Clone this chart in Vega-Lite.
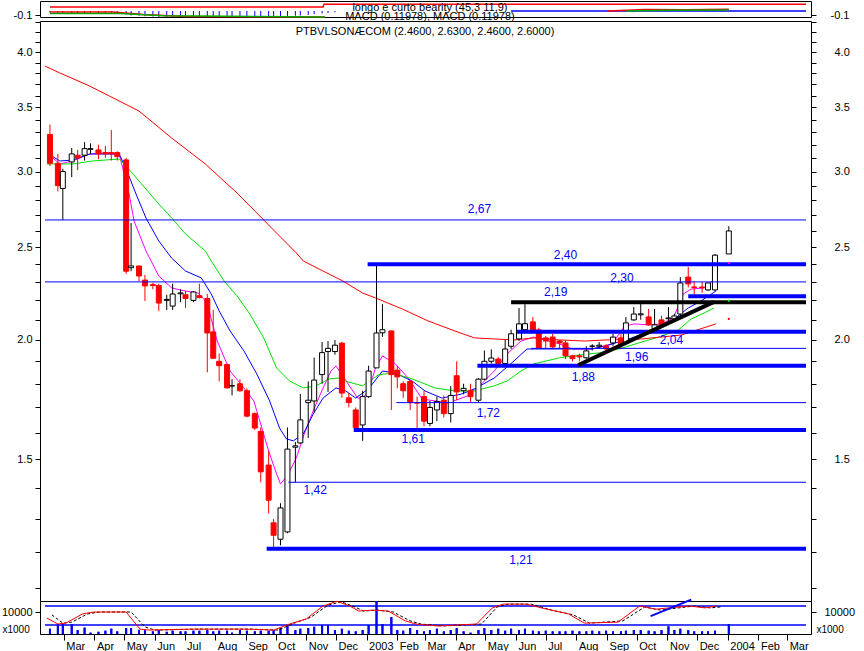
{
  "$schema": "https://vega.github.io/schema/vega-lite/v6.json",
  "background": "white",
  "padding": {"left": 0, "right": 2, "top": 0, "bottom": 0},
  "autosize": {"type": "pad"},
  "config": {
    "view": {"stroke": "#000000", "strokeWidth": 1},
    "font": "Liberation Sans",
    "axis": {"labelFont": "Liberation Sans", "labelFontSize": 11, "labelColor": "#000000", "tickColor": "#000000", "domainColor": "#000000", "grid": false, "titleFont": "Liberation Sans", "titleFontWeight": "normal", "titleColor": "#000000"},
    "text": {"font": "Liberation Sans"}
  },
  "datasets": {
    "candles": [
      {"d":"2002-02-15","o":3.28,"h":3.36,"l":3.04,"c":3.06,"v":2400},
      {"d":"2002-02-23","o":3.06,"h":3.13,"l":2.86,"c":2.90,"v":4500},
      {"d":"2002-02-28","o":2.88,"h":3.02,"l":2.67,"c":3.00,"v":4500},
      {"d":"2002-03-09","o":3.07,"h":3.175,"l":2.96,"c":3.13,"v":4500},
      {"d":"2002-03-15","o":3.12,"h":3.16,"l":3.01,"c":3.10,"v":1800},
      {"d":"2002-03-22","o":3.12,"h":3.22,"l":3.08,"c":3.17,"v":2900},
      {"d":"2002-03-28","o":3.165,"h":3.21,"l":3.13,"c":3.17,"v":600},
      {"d":"2002-04-05","o":3.16,"h":3.20,"l":3.09,"c":3.13,"v":1000},
      {"d":"2002-04-12","o":3.14,"h":3.19,"l":3.10,"c":3.13,"v":1500},
      {"d":"2002-04-18","o":3.14,"h":3.315,"l":3.08,"c":3.13,"v":2400},
      {"d":"2002-04-24","o":3.14,"h":3.15,"l":3.08,"c":3.11,"v":1200},
      {"d":"2002-05-03","o":3.085,"h":3.10,"l":2.345,"c":2.36,"v":2700},
      {"d":"2002-05-08","o":2.38,"h":2.65,"l":2.36,"c":2.39,"v":2700},
      {"d":"2002-05-16","o":2.39,"h":2.39,"l":2.305,"c":2.333,"v":1900},
      {"d":"2002-05-22","o":2.31,"h":2.34,"l":2.197,"c":2.278,"v":1800},
      {"d":"2002-05-30","o":2.285,"h":2.295,"l":2.26,"c":2.28,"v":1200},
      {"d":"2002-06-05","o":2.28,"h":2.29,"l":2.145,"c":2.186,"v":1800},
      {"d":"2002-06-13","o":2.20,"h":2.23,"l":2.15,"c":2.205,"v":1000},
      {"d":"2002-06-19","o":2.17,"h":2.29,"l":2.15,"c":2.234,"v":1500},
      {"d":"2002-06-27","o":2.235,"h":2.26,"l":2.19,"c":2.24,"v":1200},
      {"d":"2002-07-02","o":2.23,"h":2.25,"l":2.16,"c":2.21,"v":1200},
      {"d":"2002-07-10","o":2.20,"h":2.25,"l":2.19,"c":2.245,"v":1500},
      {"d":"2002-07-16","o":2.225,"h":2.29,"l":2.21,"c":2.215,"v":1500},
      {"d":"2002-07-24","o":2.21,"h":2.235,"l":1.85,"c":2.034,"v":1800},
      {"d":"2002-07-30","o":2.039,"h":2.15,"l":1.91,"c":1.914,"v":1200},
      {"d":"2002-08-05","o":1.90,"h":1.935,"l":1.81,"c":1.88,"v":1500},
      {"d":"2002-08-13","o":1.885,"h":1.89,"l":1.78,"c":1.782,"v":1500},
      {"d":"2002-08-18","o":1.79,"h":1.82,"l":1.75,"c":1.792,"v":600},
      {"d":"2002-08-26","o":1.80,"h":1.82,"l":1.765,"c":1.77,"v":1800},
      {"d":"2002-09-02","o":1.77,"h":1.78,"l":1.66,"c":1.665,"v":1500},
      {"d":"2002-09-10","o":1.675,"h":1.68,"l":1.61,"c":1.618,"v":1200},
      {"d":"2002-09-16","o":1.605,"h":1.62,"l":1.42,"c":1.456,"v":1500},
      {"d":"2002-09-24","o":1.48,"h":1.53,"l":1.317,"c":1.36,"v":1500},
      {"d":"2002-09-29","o":1.288,"h":1.30,"l":1.211,"c":1.25,"v":1800},
      {"d":"2002-10-06","o":1.238,"h":1.35,"l":1.22,"c":1.335,"v":2700},
      {"d":"2002-10-13","o":1.26,"h":1.62,"l":1.256,"c":1.538,"v":3900},
      {"d":"2002-10-21","o":1.545,"h":1.565,"l":1.42,"c":1.55,"v":1800},
      {"d":"2002-10-26","o":1.561,"h":1.756,"l":1.557,"c":1.65,"v":2400},
      {"d":"2002-11-03","o":1.72,"h":1.81,"l":1.58,"c":1.73,"v":2700},
      {"d":"2002-11-09","o":1.727,"h":1.917,"l":1.68,"c":1.816,"v":3300},
      {"d":"2002-11-17","o":1.84,"h":1.99,"l":1.80,"c":1.94,"v":4100},
      {"d":"2002-11-23","o":1.945,"h":1.995,"l":1.765,"c":1.96,"v":4100},
      {"d":"2002-11-30","o":1.945,"h":2.0,"l":1.93,"c":1.975,"v":1800},
      {"d":"2002-12-07","o":1.985,"h":1.99,"l":1.74,"c":1.76,"v":2400},
      {"d":"2002-12-14","o":1.74,"h":1.76,"l":1.70,"c":1.72,"v":1500},
      {"d":"2002-12-21","o":1.69,"h":1.70,"l":1.61,"c":1.62,"v":1200},
      {"d":"2002-12-28","o":1.63,"h":1.77,"l":1.569,"c":1.745,"v":1800},
      {"d":"2003-01-03","o":1.745,"h":1.88,"l":1.74,"c":1.856,"v":4100},
      {"d":"2003-01-11","o":1.87,"h":2.40,"l":1.87,"c":2.034,"v":15000},
      {"d":"2003-01-17","o":2.035,"h":2.18,"l":2.015,"c":2.05,"v":4500},
      {"d":"2003-01-26","o":2.044,"h":2.045,"l":1.69,"c":1.84,"v":7700},
      {"d":"2003-02-01","o":1.86,"h":1.88,"l":1.78,"c":1.83,"v":1800},
      {"d":"2003-02-07","o":1.80,"h":1.81,"l":1.74,"c":1.77,"v":1500},
      {"d":"2003-02-14","o":1.81,"h":1.815,"l":1.69,"c":1.72,"v":2700},
      {"d":"2003-02-21","o":1.72,"h":1.745,"l":1.607,"c":1.718,"v":1800},
      {"d":"2003-02-28","o":1.745,"h":1.77,"l":1.625,"c":1.645,"v":1200},
      {"d":"2003-03-06","o":1.636,"h":1.727,"l":1.625,"c":1.70,"v":1800},
      {"d":"2003-03-13","o":1.69,"h":1.745,"l":1.645,"c":1.725,"v":2400},
      {"d":"2003-03-20","o":1.73,"h":1.75,"l":1.66,"c":1.675,"v":1200},
      {"d":"2003-03-27","o":1.675,"h":1.79,"l":1.64,"c":1.75,"v":1800},
      {"d":"2003-04-02","o":1.835,"h":1.90,"l":1.73,"c":1.765,"v":2700},
      {"d":"2003-04-09","o":1.77,"h":1.80,"l":1.755,"c":1.78,"v":1200},
      {"d":"2003-04-16","o":1.77,"h":1.80,"l":1.72,"c":1.745,"v":600},
      {"d":"2003-04-24","o":1.73,"h":1.825,"l":1.72,"c":1.82,"v":1800},
      {"d":"2003-04-30","o":1.82,"h":1.95,"l":1.815,"c":1.90,"v":2700},
      {"d":"2003-05-07","o":1.90,"h":1.955,"l":1.89,"c":1.915,"v":1800},
      {"d":"2003-05-14","o":1.91,"h":1.92,"l":1.88,"c":1.89,"v":2400},
      {"d":"2003-05-21","o":1.89,"h":2.0,"l":1.88,"c":1.957,"v":1500},
      {"d":"2003-05-27","o":1.97,"h":2.05,"l":1.957,"c":2.03,"v":2400},
      {"d":"2003-06-04","o":2.005,"h":2.16,"l":1.995,"c":2.079,"v":1800},
      {"d":"2003-06-10","o":2.05,"h":2.18,"l":2.04,"c":2.08,"v":2400},
      {"d":"2003-06-18","o":2.089,"h":2.114,"l":2.04,"c":2.049,"v":1500},
      {"d":"2003-06-24","o":2.049,"h":2.06,"l":1.957,"c":1.962,"v":1200},
      {"d":"2003-07-01","o":2.01,"h":2.02,"l":1.96,"c":1.995,"v":1500},
      {"d":"2003-07-08","o":2.014,"h":2.03,"l":1.96,"c":1.967,"v":1200},
      {"d":"2003-07-15","o":1.995,"h":2.0,"l":1.96,"c":1.986,"v":1200},
      {"d":"2003-07-21","o":1.986,"h":2.0,"l":1.91,"c":1.925,"v":1200},
      {"d":"2003-07-28","o":1.925,"h":1.93,"l":1.90,"c":1.912,"v":1500},
      {"d":"2003-08-04","o":1.925,"h":1.935,"l":1.90,"c":1.92,"v":1200},
      {"d":"2003-08-11","o":1.916,"h":1.97,"l":1.912,"c":1.948,"v":1200},
      {"d":"2003-08-17","o":1.97,"h":1.98,"l":1.95,"c":1.971,"v":1500},
      {"d":"2003-08-24","o":1.97,"h":1.99,"l":1.96,"c":1.975,"v":1200},
      {"d":"2003-08-31","o":1.971,"h":1.98,"l":1.95,"c":1.957,"v":1500},
      {"d":"2003-09-07","o":1.986,"h":2.03,"l":1.97,"c":2.014,"v":1200},
      {"d":"2003-09-15","o":2.01,"h":2.03,"l":1.962,"c":1.976,"v":1200},
      {"d":"2003-09-20","o":1.986,"h":2.114,"l":1.98,"c":2.084,"v":1500},
      {"d":"2003-09-28","o":2.099,"h":2.165,"l":2.094,"c":2.129,"v":1800},
      {"d":"2003-10-05","o":2.125,"h":2.186,"l":2.10,"c":2.13,"v":1800},
      {"d":"2003-10-13","o":2.114,"h":2.155,"l":2.07,"c":2.074,"v":1500},
      {"d":"2003-10-19","o":2.054,"h":2.155,"l":2.05,"c":2.074,"v":1200},
      {"d":"2003-10-26","o":2.099,"h":2.12,"l":2.06,"c":2.069,"v":1800},
      {"d":"2003-11-02","o":2.105,"h":2.165,"l":2.09,"c":2.109,"v":3500},
      {"d":"2003-11-08","o":2.104,"h":2.13,"l":2.09,"c":2.119,"v":1800},
      {"d":"2003-11-14","o":2.129,"h":2.327,"l":2.114,"c":2.294,"v":2400},
      {"d":"2003-11-22","o":2.327,"h":2.384,"l":2.27,"c":2.289,"v":1800},
      {"d":"2003-11-28","o":2.272,"h":2.305,"l":2.234,"c":2.27,"v":1200},
      {"d":"2003-12-06","o":2.272,"h":2.30,"l":2.24,"c":2.268,"v":1200},
      {"d":"2003-12-12","o":2.256,"h":2.294,"l":2.25,"c":2.294,"v":1200},
      {"d":"2003-12-19","o":2.256,"h":2.46,"l":2.25,"c":2.453,"v":1500},
      {"d":"2004-01-02","o":2.46,"h":2.63,"l":2.46,"c":2.60,"v":4500}
    ],
    "ma": [
      {"d":"2002-02-12","s":"fast","p":3.137},{"d":"2002-02-25","s":"fast","p":3.055},{"d":"2002-03-10","s":"fast","p":3.077},{"d":"2002-03-27","s":"fast","p":3.129},{"d":"2002-04-13","s":"fast","p":3.137},{"d":"2002-04-26","s":"fast","p":3.129},{"d":"2002-04-29","s":"fast","p":3.04},{"d":"2002-05-06","s":"fast","p":2.842},{"d":"2002-05-11","s":"fast","p":2.663},{"d":"2002-05-23","s":"fast","p":2.478},{"d":"2002-06-05","s":"fast","p":2.333},{"d":"2002-06-18","s":"fast","p":2.267},{"d":"2002-07-02","s":"fast","p":2.25},{"d":"2002-07-15","s":"fast","p":2.239},{"d":"2002-07-22","s":"fast","p":2.197},{"d":"2002-07-25","s":"fast","p":2.16},{"d":"2002-08-03","s":"fast","p":1.995},{"d":"2002-08-16","s":"fast","p":1.856},{"d":"2002-08-30","s":"fast","p":1.782},{"d":"2002-09-09","s":"fast","p":1.727},{"d":"2002-09-15","s":"fast","p":1.646},{"d":"2002-09-24","s":"fast","p":1.531},{"d":"2002-10-02","s":"fast","p":1.449},{"d":"2002-10-06","s":"fast","p":1.414},{"d":"2002-10-14","s":"fast","p":1.449},{"d":"2002-10-22","s":"fast","p":1.506},{"d":"2002-10-30","s":"fast","p":1.595},{"d":"2002-11-08","s":"fast","p":1.686},{"d":"2002-11-18","s":"fast","p":1.782},{"d":"2002-11-26","s":"fast","p":1.856},{"d":"2002-12-01","s":"fast","p":1.879},{"d":"2002-12-08","s":"fast","p":1.834},{"d":"2002-12-16","s":"fast","p":1.782},{"d":"2002-12-23","s":"fast","p":1.739},{"d":"2002-12-28","s":"fast","p":1.739},{"d":"2003-01-03","s":"fast","p":1.769},{"d":"2003-01-10","s":"fast","p":1.87},{"d":"2003-01-17","s":"fast","p":1.925},{"d":"2003-01-30","s":"fast","p":1.888},{"d":"2003-02-12","s":"fast","p":1.825},{"d":"2003-02-26","s":"fast","p":1.735},{"d":"2003-03-11","s":"fast","p":1.727},{"d":"2003-03-24","s":"fast","p":1.718},{"d":"2003-04-13","s":"fast","p":1.748},{"d":"2003-04-27","s":"fast","p":1.799},{"d":"2003-05-10","s":"fast","p":1.856},{"d":"2003-05-23","s":"fast","p":1.934},{"d":"2003-06-06","s":"fast","p":1.995},{"d":"2003-06-19","s":"fast","p":2.014},{"d":"2003-07-15","s":"fast","p":1.981},{"d":"2003-07-28","s":"fast","p":1.957},{"d":"2003-08-17","s":"fast","p":1.957},{"d":"2003-09-06","s":"fast","p":1.981},{"d":"2003-09-19","s":"fast","p":2.069},{"d":"2003-09-29","s":"fast","p":2.079},{"d":"2003-10-13","s":"fast","p":2.074},{"d":"2003-10-26","s":"fast","p":2.079},{"d":"2003-11-07","s":"fast","p":2.109},{"d":"2003-11-13","s":"fast","p":2.181},{"d":"2003-11-17","s":"fast","p":2.234},{"d":"2003-11-25","s":"fast","p":2.261},{"d":"2003-12-08","s":"fast","p":2.267},{"d":"2003-12-20","s":"fast","p":2.322},
      {"d":"2002-02-12","s":"medium","p":3.137},{"d":"2002-02-25","s":"medium","p":3.077},{"d":"2002-03-10","s":"medium","p":3.084},{"d":"2002-03-27","s":"medium","p":3.129},{"d":"2002-04-26","s":"medium","p":3.129},{"d":"2002-05-03","s":"medium","p":3.018},{"d":"2002-05-13","s":"medium","p":2.842},{"d":"2002-05-23","s":"medium","p":2.683},{"d":"2002-06-05","s":"medium","p":2.538},{"d":"2002-06-18","s":"medium","p":2.436},{"d":"2002-07-02","s":"medium","p":2.361},{"d":"2002-07-18","s":"medium","p":2.322},{"d":"2002-07-28","s":"medium","p":2.234},{"d":"2002-08-05","s":"medium","p":2.145},{"d":"2002-08-16","s":"medium","p":2.044},{"d":"2002-08-30","s":"medium","p":1.948},{"d":"2002-09-12","s":"medium","p":1.843},{"d":"2002-09-25","s":"medium","p":1.727},{"d":"2002-10-05","s":"medium","p":1.618},{"d":"2002-10-12","s":"medium","p":1.576},{"d":"2002-10-19","s":"medium","p":1.569},{"d":"2002-10-29","s":"medium","p":1.595},{"d":"2002-11-08","s":"medium","p":1.673},{"d":"2002-11-18","s":"medium","p":1.739},{"d":"2002-12-01","s":"medium","p":1.782},{"d":"2002-12-11","s":"medium","p":1.769},{"d":"2002-12-21","s":"medium","p":1.739},{"d":"2003-01-03","s":"medium","p":1.778},{"d":"2003-01-17","s":"medium","p":1.856},{"d":"2003-01-30","s":"medium","p":1.847},{"d":"2003-02-16","s":"medium","p":1.812},{"d":"2003-03-01","s":"medium","p":1.769},{"d":"2003-03-18","s":"medium","p":1.739},{"d":"2003-04-07","s":"medium","p":1.756},{"d":"2003-04-20","s":"medium","p":1.778},{"d":"2003-05-10","s":"medium","p":1.825},{"d":"2003-05-30","s":"medium","p":1.902},{"d":"2003-06-12","s":"medium","p":1.957},{"d":"2003-07-15","s":"medium","p":1.957},{"d":"2003-08-17","s":"medium","p":1.957},{"d":"2003-08-30","s":"medium","p":1.971},{"d":"2003-09-26","s":"medium","p":2.01},{"d":"2003-10-23","s":"medium","p":2.059},{"d":"2003-11-08","s":"medium","p":2.104},{"d":"2003-11-22","s":"medium","p":2.16},{"d":"2003-12-05","s":"medium","p":2.197},{"d":"2003-12-20","s":"medium","p":2.25},
      {"d":"2002-02-12","s":"slow","p":3.055},{"d":"2002-03-10","s":"slow","p":3.055},{"d":"2002-03-30","s":"slow","p":3.077},{"d":"2002-04-26","s":"slow","p":3.092},{"d":"2002-05-03","s":"slow","p":3.04},{"d":"2002-05-16","s":"slow","p":2.932},{"d":"2002-06-05","s":"slow","p":2.775},{"d":"2002-06-18","s":"slow","p":2.683},{"d":"2002-07-02","s":"slow","p":2.581},{"d":"2002-07-22","s":"slow","p":2.478},{"d":"2002-07-28","s":"slow","p":2.419},{"d":"2002-08-10","s":"slow","p":2.305},{"d":"2002-08-23","s":"slow","p":2.224},{"d":"2002-09-05","s":"slow","p":2.129},{"d":"2002-09-19","s":"slow","p":2.01},{"d":"2002-10-02","s":"slow","p":1.87},{"d":"2002-10-15","s":"slow","p":1.812},{"d":"2002-10-29","s":"slow","p":1.782},{"d":"2002-11-11","s":"slow","p":1.791},{"d":"2002-11-24","s":"slow","p":1.821},{"d":"2002-12-04","s":"slow","p":1.825},{"d":"2002-12-14","s":"slow","p":1.807},{"d":"2002-12-28","s":"slow","p":1.791},{"d":"2003-01-13","s":"slow","p":1.839},{"d":"2003-01-27","s":"slow","p":1.847},{"d":"2003-02-16","s":"slow","p":1.821},{"d":"2003-03-01","s":"slow","p":1.799},{"d":"2003-03-11","s":"slow","p":1.782},{"d":"2003-03-31","s":"slow","p":1.769},{"d":"2003-04-20","s":"slow","p":1.769},{"d":"2003-05-10","s":"slow","p":1.791},{"d":"2003-05-23","s":"slow","p":1.812},{"d":"2003-06-06","s":"slow","p":1.856},{"d":"2003-06-19","s":"slow","p":1.888},{"d":"2003-07-15","s":"slow","p":1.916},{"d":"2003-08-04","s":"slow","p":1.929},{"d":"2003-08-24","s":"slow","p":1.939},{"d":"2003-09-13","s":"slow","p":1.957},{"d":"2003-10-03","s":"slow","p":1.986},{"d":"2003-10-23","s":"slow","p":2.014},{"d":"2003-11-12","s":"slow","p":2.049},{"d":"2003-11-25","s":"slow","p":2.104},{"d":"2003-12-08","s":"slow","p":2.134},{"d":"2003-12-18","s":"slow","p":2.16},
      {"d":"2002-02-10","s":"long","p":3.867},{"d":"2002-02-25","s":"long","p":3.803},{"d":"2002-03-27","s":"long","p":3.686},{"d":"2002-04-16","s":"long","p":3.598},{"d":"2002-05-16","s":"long","p":3.47},{"d":"2002-06-18","s":"long","p":3.252},{"d":"2002-07-22","s":"long","p":3.055},{"d":"2002-08-23","s":"long","p":2.849},{"d":"2002-09-12","s":"long","p":2.715},{"d":"2002-10-02","s":"long","p":2.587},{"d":"2002-10-22","s":"long","p":2.466},{"d":"2002-10-29","s":"long","p":2.419},{"d":"2002-11-18","s":"long","p":2.361},{"d":"2002-12-08","s":"long","p":2.305},{"d":"2002-12-28","s":"long","p":2.239},{"d":"2003-01-10","s":"long","p":2.213},{"d":"2003-02-06","s":"long","p":2.155},{"d":"2003-03-04","s":"long","p":2.094},{"d":"2003-03-31","s":"long","p":2.044},{"d":"2003-04-20","s":"long","p":2.01},{"d":"2003-05-10","s":"long","p":2.005},{"d":"2003-05-30","s":"long","p":2.0},{"d":"2003-06-19","s":"long","p":2.01},{"d":"2003-07-15","s":"long","p":2.0},{"d":"2003-08-10","s":"long","p":1.995},{"d":"2003-08-30","s":"long","p":2.0},{"d":"2003-10-06","s":"long","p":2.005},{"d":"2003-11-15","s":"long","p":2.024},{"d":"2003-11-28","s":"long","p":2.044},{"d":"2003-12-20","s":"long","p":2.079}
    ],
    "madots": [
      {"d":"2004-01-02","s":"fast","p":2.407},
      {"d":"2004-01-02","s":"slow","p":2.197},
      {"d":"2004-01-02","s":"long","p":2.104}
    ],
    "thin": [
      {"d":"2002-02-10","e":"2004-03-20","p":2.67},
      {"d":"2002-02-10","e":"2004-03-20","p":2.30},
      {"d":"2003-06-16","e":"2004-03-20","p":1.96},
      {"d":"2003-01-31","e":"2004-03-20","p":1.72},
      {"d":"2002-10-14","e":"2004-03-20","p":1.42}
    ],
    "thick": [
      {"d":"2003-01-02","e":"2004-03-20","p":2.40},
      {"d":"2003-06-02","e":"2004-03-20","p":2.04},
      {"d":"2003-04-23","e":"2004-03-20","p":1.88},
      {"d":"2002-12-19","e":"2004-03-20","p":1.61},
      {"d":"2002-09-22","e":"2004-03-20","p":1.21},
      {"d":"2003-11-22","e":"2004-03-20","p":2.222}
    ],
    "black": [
      {"d":"2003-05-27","e":"2004-03-20","p":2.19}
    ],
    "trend": [
      {"d":"2003-08-03","p":1.883},
      {"d":"2003-12-18","p":2.192}
    ],
    "labels": [
      {"d":"2003-04-25","p":2.741,"t":"2,67"},
      {"d":"2003-07-21","p":2.454,"t":"2,40"},
      {"d":"2003-09-16","p":2.322,"t":"2,30"},
      {"d":"2003-07-11","p":2.245,"t":"2,19"},
      {"d":"2003-11-05","p":2.0,"t":"2,04"},
      {"d":"2003-10-01","p":1.92,"t":"1,96"},
      {"d":"2003-08-08","p":1.83,"t":"1,88"},
      {"d":"2003-05-04","p":1.678,"t":"1,72"},
      {"d":"2003-02-17","p":1.576,"t":"1,61"},
      {"d":"2002-11-10","p":1.394,"t":"1,42"},
      {"d":"2003-06-06","p":1.178,"t":"1,21"}
    ],
    "maintitle": [
      {"d":"2003-03-01","p":4.197,"t":"PTBVLSONÆCOM (2.4600, 2.6300, 2.4600, 2.6000)"}
    ],
    "macdtext": [
      {"d":"2003-03-06","v":0.075,"t":"longo e curto bearity (45,3 11,9)"},
      {"d":"2003-03-06","v":-0.145,"t":"MACD (0.11978), MACD (0.11978)"}
    ],
    "macdh": [
      {"d":"2002-02-15","v":-0.04},{"d":"2002-02-23","v":-0.05},{"d":"2002-02-28","v":-0.05},{"d":"2002-03-09","v":-0.06},{"d":"2002-03-15","v":-0.05},{"d":"2002-03-22","v":-0.05},{"d":"2002-03-28","v":-0.04},{"d":"2002-04-05","v":-0.05},{"d":"2002-04-12","v":-0.05},{"d":"2002-04-18","v":-0.06},{"d":"2002-04-24","v":-0.06},{"d":"2002-05-03","v":-0.09},{"d":"2002-05-08","v":-0.11},{"d":"2002-05-16","v":-0.12},{"d":"2002-05-22","v":-0.13},{"d":"2002-05-30","v":-0.14},{"d":"2002-06-05","v":-0.15},{"d":"2002-06-13","v":-0.15},{"d":"2002-06-19","v":-0.15},{"d":"2002-06-27","v":-0.15},{"d":"2002-07-02","v":-0.15},{"d":"2002-07-10","v":-0.14},{"d":"2002-07-16","v":-0.14},{"d":"2002-07-24","v":-0.15},{"d":"2002-07-30","v":-0.15},{"d":"2002-08-05","v":-0.15},{"d":"2002-08-13","v":-0.15},{"d":"2002-08-18","v":-0.15},{"d":"2002-08-26","v":-0.15},{"d":"2002-09-02","v":-0.15},{"d":"2002-09-10","v":-0.15},{"d":"2002-09-16","v":-0.15},{"d":"2002-09-24","v":-0.15},{"d":"2002-09-29","v":-0.15},{"d":"2002-10-06","v":-0.14},{"d":"2002-10-13","v":-0.13},{"d":"2002-10-21","v":-0.12},{"d":"2002-10-26","v":-0.11},{"d":"2002-11-03","v":-0.1},{"d":"2002-11-09","v":-0.08},{"d":"2002-11-17","v":-0.06},{"d":"2002-11-23","v":-0.05},{"d":"2002-11-30","v":-0.03},
      {"d":"2003-11-22","v":0.03},{"d":"2003-11-28","v":0.04},{"d":"2003-12-06","v":0.04},{"d":"2003-12-12","v":0.03},{"d":"2003-12-19","v":0.02}
    ],
    "macdl": [
      {"d":"2002-02-15","s":"macd1","v":-0.025},{"d":"2002-04-20","s":"macd1","v":-0.025},{"d":"2002-05-20","s":"macd1","v":-0.09},{"d":"2002-07-01","s":"macd1","v":-0.14},{"d":"2002-11-20","s":"macd1","v":-0.15},
      {"d":"2003-09-01","s":"macd2","v":0.0},{"d":"2003-10-10","s":"macd2","v":0.04},{"d":"2003-11-20","s":"macd2","v":0.03},{"d":"2004-01-02","s":"macd2","v":0.045},
      {"d":"2002-02-15","s":"sig1","v":-0.065},{"d":"2002-04-26","s":"sig1","v":-0.065},{"d":"2002-06-10","s":"sig1","v":-0.12},{"d":"2002-11-20","s":"sig1","v":-0.15},
      {"d":"2003-09-20","s":"sig2","v":0.0},{"d":"2003-11-01","s":"sig2","v":0.02},{"d":"2004-01-02","s":"sig2","v":0.025},
      {"d":"2002-02-15","s":"up","v":0.1},{"d":"2002-11-18","s":"up","v":0.1},{"d":"2002-11-19","s":"up","v":0.17},{"d":"2004-03-20","s":"up","v":0.17}
    ],
    "macdz": [
      {"d":"2003-05-27","e":"2004-03-20","v":0}
    ],
    "oscred": [
      {"d":"2002-02-12","o":42},{"d":"2002-02-23","o":23},{"d":"2002-03-03","o":26},{"d":"2002-03-20","o":55},{"d":"2002-03-31","o":61},{"d":"2002-05-03","o":61},{"d":"2002-05-17","o":7},{"d":"2002-05-26","o":4},{"d":"2002-07-09","o":7},{"d":"2002-09-01","o":7},{"d":"2002-09-29","o":4},{"d":"2002-10-15","o":23},{"d":"2002-11-01","o":39},{"d":"2002-11-18","o":80},{"d":"2002-12-02","o":95},{"d":"2002-12-15","o":80},{"d":"2002-12-24","o":64},{"d":"2003-01-07","o":67},{"d":"2003-01-23","o":64},{"d":"2003-02-09","o":33},{"d":"2003-02-20","o":23},{"d":"2003-03-14","o":17},{"d":"2003-04-22","o":23},{"d":"2003-05-08","o":74},{"d":"2003-05-19","o":86},{"d":"2003-06-11","o":86},{"d":"2003-07-02","o":70},{"d":"2003-07-24","o":55},{"d":"2003-08-09","o":26},{"d":"2003-09-12","o":29},{"d":"2003-10-04","o":80},{"d":"2003-10-20","o":70},{"d":"2003-11-23","o":80},{"d":"2003-12-09","o":74},{"d":"2003-12-20","o":80}
    ],
    "oscblack": [
      {"d":"2002-02-17","o":52},{"d":"2002-02-28","o":26},{"d":"2002-03-09","o":29},{"d":"2002-03-25","o":55},{"d":"2002-04-06","o":61},{"d":"2002-05-08","o":61},{"d":"2002-05-22","o":14},{"d":"2002-06-01","o":4},{"d":"2002-07-15","o":7},{"d":"2002-09-07","o":7},{"d":"2002-10-04","o":4},{"d":"2002-10-20","o":26},{"d":"2002-11-06","o":45},{"d":"2002-11-23","o":83},{"d":"2002-12-07","o":93},{"d":"2002-12-20","o":77},{"d":"2002-12-29","o":64},{"d":"2003-01-12","o":67},{"d":"2003-01-28","o":61},{"d":"2003-02-14","o":33},{"d":"2003-02-25","o":23},{"d":"2003-03-19","o":17},{"d":"2003-04-27","o":23},{"d":"2003-05-13","o":77},{"d":"2003-05-24","o":86},{"d":"2003-06-16","o":86},{"d":"2003-07-07","o":67},{"d":"2003-07-29","o":52},{"d":"2003-08-14","o":26},{"d":"2003-09-17","o":33},{"d":"2003-10-09","o":77},{"d":"2003-10-25","o":67},{"d":"2003-11-28","o":80},{"d":"2003-12-14","o":74},{"d":"2003-12-25","o":77}
    ],
    "osclev": [
      {"d":"2002-02-10","e":"2004-03-20","o":80},
      {"d":"2002-02-10","e":"2004-03-20","o":20}
    ],
    "oscdiag": [
      {"d":"2003-10-15","o":48},
      {"d":"2003-11-25","o":100}
    ]
  },
  "bounds": "flush",
  "spacing": 4,
  "resolve": {"scale": {"color": "independent"}},
  "vconcat": [
    {
      "width": 771,
      "height": 16,
      "encoding": {"x": {"field": "d", "type": "temporal", "scale": {"domain": [{"year": 2002, "month": 2, "date": 10}, {"year": 2004, "month": 3, "date": 20}]}, "axis": null}},
      "layer": [
        {"data": {"name": "macdh"}, "mark": {"type": "bar", "width": 1, "color": "#0000ff"},
         "encoding": {"y": {"field": "v", "type": "quantitative", "scale": {"domain": [-0.15, 0.25], "nice": false, "zero": false},
                            "axis": {"orient": "left", "values": [-0.1], "labelExpr": "'-0.1'", "tickSize": 5, "labelPadding": 3, "title": null, "domain": false}},
                      "y2": {"datum": 0}}},
        {"data": {"name": "macdz"}, "mark": {"type": "rule", "color": "#0000ff", "strokeWidth": 1.5},
         "encoding": {"x2": {"field": "e"}, "y": {"field": "v", "type": "quantitative",
                      "axis": {"orient": "right", "values": [-0.1], "labelExpr": "'-0.1'", "tickSize": 5, "labelPadding": 14, "title": null, "domain": false}}}},
        {"data": {"name": "macdl"}, "mark": {"type": "line", "strokeWidth": 1.5},
         "encoding": {"y": {"field": "v", "type": "quantitative", "axis": null},
                      "color": {"field": "s", "type": "nominal", "scale": {"domain": ["macd1", "macd2", "sig1", "sig2", "up"], "range": ["#ff0000", "#ff0000", "#00aa00", "#00aa00", "#ff0000"]}, "legend": null}}},
        {"data": {"name": "macdtext"}, "mark": {"type": "text", "fontSize": 11, "color": "#000000", "baseline": "middle"},
         "encoding": {"y": {"field": "v", "type": "quantitative", "axis": null}, "text": {"field": "t"}}}
      ],
      "resolve": {"axis": {"y": "independent"}}
    },
    {
      "bounds": "flush",
      "spacing": 0,
      "vconcat": [
        {
          "width": 771,
          "height": 580,
          "encoding": {"x": {"field": "d", "type": "temporal", "scale": {"domain": [{"year": 2002, "month": 2, "date": 10}, {"year": 2004, "month": 3, "date": 20}]}, "axis": null}},
          "layer": [
            {"data": {"name": "ma"}, "mark": {"type": "line", "strokeWidth": 1},
             "encoding": {"y": {"field": "p", "type": "quantitative", "scale": {"type": "log", "domain": [1.067, 4.31], "nice": false},
                                "axis": {"orient": "left", "values": [1.1,1.2,1.3,1.4,1.5,1.6,1.7,1.8,1.9,2.0,2.1,2.2,2.3,2.4,2.5,2.6,2.7,2.8,2.9,3.0,3.1,3.2,3.3,3.4,3.5,3.6,3.7,3.8,3.9,4.0,4.1,4.2,4.3],
                                         "labelExpr": "abs(datum.value * 2 - round(datum.value * 2)) < 0.01 ? format(datum.value, '.1f') : ''", "tickSize": 5, "labelPadding": 3, "title": null, "domain": false}},
                          "color": {"field": "s", "type": "nominal", "scale": {"domain": ["fast", "medium", "slow", "long"], "range": ["#ff00ff", "#0000ff", "#00e000", "#ff0000"]}, "legend": null}}},
            {"data": {"name": "candles"}, "mark": {"type": "rule", "strokeWidth": 1},
             "encoding": {"y": {"field": "l", "type": "quantitative", "axis": null}, "y2": {"field": "h"},
                          "color": {"condition": {"test": "datum.c < datum.o", "value": "#ff0000"}, "value": "#000000"}}},
            {"data": {"name": "candles"}, "mark": {"type": "bar", "width": 5, "strokeWidth": 1},
             "encoding": {"y": {"field": "o", "type": "quantitative", "axis": null}, "y2": {"field": "c"},
                          "fill": {"condition": {"test": "datum.c < datum.o", "value": "#ff0000"}, "value": "#ffffff"},
                          "stroke": {"condition": {"test": "datum.c < datum.o", "value": "#ff0000"}, "value": "#000000"}}},
            {"data": {"name": "thin"}, "mark": {"type": "rule", "color": "#0000ff", "strokeWidth": 1},
             "encoding": {"x2": {"field": "e"}, "y": {"field": "p", "type": "quantitative", "axis": null}}},
            {"data": {"name": "thick"}, "mark": {"type": "rule", "color": "#0000ff", "strokeWidth": 4},
             "encoding": {"x2": {"field": "e"}, "y": {"field": "p", "type": "quantitative", "axis": null}}},
            {"data": {"name": "black"}, "mark": {"type": "rule", "color": "#000000", "strokeWidth": 4},
             "encoding": {"x2": {"field": "e"}, "y": {"field": "p", "type": "quantitative", "axis": null}}},
            {"data": {"name": "trend"}, "mark": {"type": "line", "color": "#000000", "strokeWidth": 4},
             "encoding": {"y": {"field": "p", "type": "quantitative",
                                "axis": {"orient": "right", "values": [1.1,1.2,1.3,1.4,1.5,1.6,1.7,1.8,1.9,2.0,2.1,2.2,2.3,2.4,2.5,2.6,2.7,2.8,2.9,3.0,3.1,3.2,3.3,3.4,3.5,3.6,3.7,3.8,3.9,4.0,4.1,4.2,4.3],
                                         "labelExpr": "abs(datum.value * 2 - round(datum.value * 2)) < 0.01 ? format(datum.value, '.1f') : ''", "tickSize": 5, "labelPadding": 18, "title": null, "domain": false}}}},
            {"data": {"name": "labels"}, "mark": {"type": "text", "color": "#0000ff", "fontSize": 12, "font": "Liberation Sans"},
             "encoding": {"y": {"field": "p", "type": "quantitative", "axis": null}, "text": {"field": "t"}}},
            {"data": {"name": "maintitle"}, "mark": {"type": "text", "color": "#000000", "fontSize": 11, "baseline": "middle"},
             "encoding": {"y": {"field": "p", "type": "quantitative", "axis": null}, "text": {"field": "t"}}},
            {"data": {"name": "madots"}, "mark": {"type": "point", "filled": true, "size": 5, "opacity": 1},
             "encoding": {"y": {"field": "p", "type": "quantitative", "axis": null},
                          "color": {"field": "s", "type": "nominal", "scale": {"domain": ["fast", "medium", "slow", "long"], "range": ["#ff00ff", "#0000ff", "#00e000", "#ff0000"]}, "legend": null}}}
          ],
          "resolve": {"axis": {"y": "independent"}}
        },
        {
          "width": 771,
          "height": 33,
          "encoding": {"x": {"field": "d", "type": "temporal", "scale": {"domain": [{"year": 2002, "month": 2, "date": 10}, {"year": 2004, "month": 3, "date": 20}]},
                             "axis": {"orient": "bottom", "tickCount": {"interval": "month", "step": 1},
                                      "labelExpr": "month(datum.value) == 0 ? timeFormat(datum.value, '%Y') : timeFormat(datum.value, '%b')",
                                      "labelAlign": "left", "labelBaseline": "top", "labelPadding": 0, "labelOffset": 2, "tickSize": 6, "labelOverlap": false, "labelFlush": false, "labelBound": false, "title": null, "domain": true}}},
          "layer": [
            {"data": {"name": "candles"}, "mark": {"type": "bar", "width": 2, "color": "#0000ff"},
             "encoding": {"y": {"field": "v", "type": "quantitative", "scale": {"domain": [0, 15000], "nice": false},
                                "axis": {"orient": "left", "values": [10000], "labelExpr": "'10000'", "tickSize": 5, "labelPadding": 3, "domain": false,
                                         "title": "x1000", "titleAngle": 0, "titleX": -38, "titleY": 28, "titleAlign": "left", "titleBaseline": "middle", "titleFontSize": 10}}}},
            {"data": {"name": "candles"}, "mark": {"type": "bar", "width": 2, "color": "#0000ff"},
             "encoding": {"y": {"field": "v", "type": "quantitative", "scale": {"domain": [0, 15000], "nice": false},
                                "axis": {"orient": "right", "values": [10000], "labelExpr": "'10000'", "tickSize": 5, "labelPadding": 8, "domain": false,
                                         "title": "x1000", "titleAngle": 0, "titleX": 5, "titleY": 28, "titleAlign": "left", "titleBaseline": "middle", "titleFontSize": 10}}}},
            {"data": {"name": "osclev"}, "mark": {"type": "rule", "color": "#0000ff", "strokeWidth": 1.5},
             "encoding": {"x2": {"field": "e"}, "y": {"field": "o", "type": "quantitative", "scale": {"domain": [-8.4, 95.8], "nice": false, "zero": false}, "axis": null}}},
            {"data": {"name": "oscblack"}, "mark": {"type": "line", "color": "#000000", "strokeWidth": 1, "strokeDash": [3, 2]},
             "encoding": {"y": {"field": "o", "type": "quantitative", "scale": {"domain": [-8.4, 95.8], "nice": false, "zero": false}, "axis": null}}},
            {"data": {"name": "oscred"}, "mark": {"type": "line", "color": "#ff0000", "strokeWidth": 1},
             "encoding": {"y": {"field": "o", "type": "quantitative", "scale": {"domain": [-8.4, 95.8], "nice": false, "zero": false}, "axis": null}}},
            {"data": {"name": "oscdiag"}, "mark": {"type": "line", "color": "#0000ff", "strokeWidth": 2},
             "encoding": {"y": {"field": "o", "type": "quantitative", "scale": {"domain": [-8.4, 95.8], "nice": false, "zero": false}, "axis": null}}}
          ],
          "resolve": {"scale": {"y": "independent"}, "axis": {"y": "independent"}}
        }
      ]
    }
  ]
}
